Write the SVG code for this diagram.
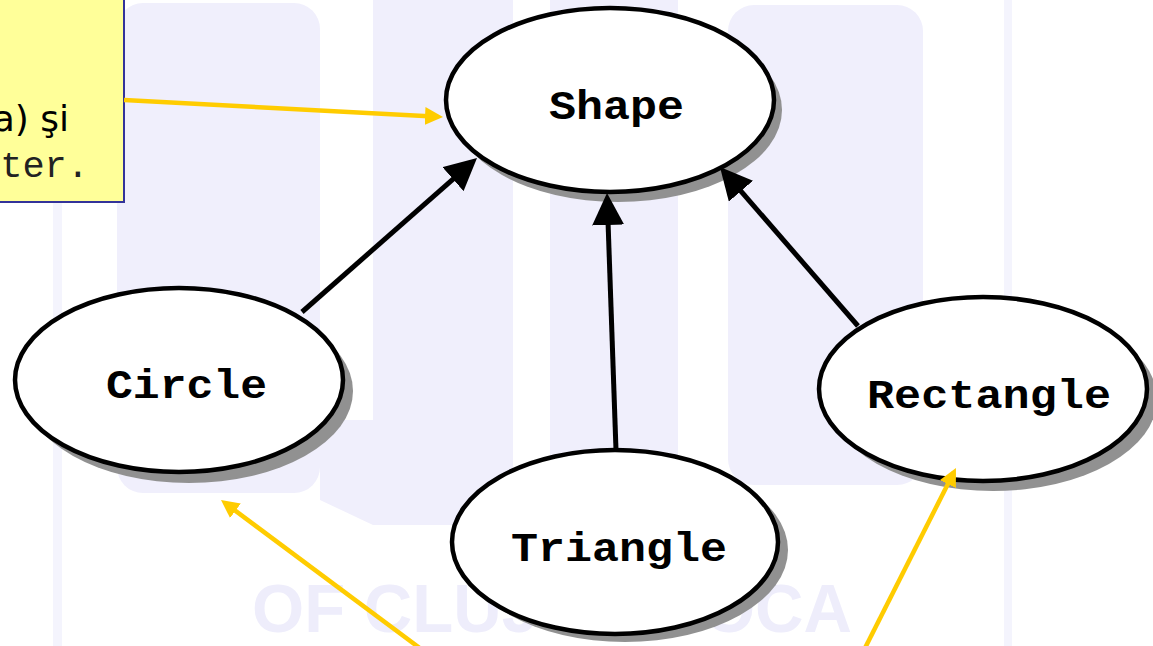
<svg xmlns="http://www.w3.org/2000/svg" width="1153" height="646" viewBox="0 0 1153 646">
  <defs>
    <style>
      .wm { fill: #f0effc; }
      .node-body { fill: #ffffff; stroke: #000000; stroke-width: 4.5; }
      .node-shadow { fill: #919191; }
      .label { font-family: "Liberation Mono", "Courier New", monospace; font-weight: bold; font-size: 40px; fill: #000000; }
      .inherit { stroke: #000000; stroke-width: 5; fill: none; marker-end: url(#head-black); }
      .pointer { stroke: #ffcc00; stroke-width: 4.5; fill: none; marker-end: url(#head-yellow); }
      .note-box { fill: #ffff99; stroke: #333399; stroke-width: 2; }
    </style>
    <marker id="head-black" markerUnits="userSpaceOnUse" viewBox="0 0 32 32" markerWidth="32" markerHeight="32" refX="24" refY="16" orient="auto">
      <path d="M0,0 L32,16 L0,32 Z" fill="#000000"/>
    </marker>
    <marker id="head-yellow" markerUnits="userSpaceOnUse" viewBox="0 0 18 18" markerWidth="18" markerHeight="18" refX="13" refY="9" orient="auto">
      <path d="M0,0 L18,9 L0,18 Z" fill="#ffcc00"/>
    </marker>
  </defs>

  <rect x="0" y="0" width="1153" height="646" fill="#ffffff"/>

  <!-- faint university logo in the background -->
  <g id="watermark">
    <rect class="wm" x="53" y="0" width="9" height="646" opacity="0.7"/>
    <rect class="wm" x="1004" y="0" width="8" height="646" opacity="0.7"/>
    <rect class="wm" x="117" y="3" width="203" height="490" rx="26"/>
    <rect class="wm" x="373" y="0" width="140" height="525"/>
    <rect class="wm" x="550" y="0" width="128" height="525"/>
    <rect class="wm" x="728" y="5" width="195" height="480" rx="26"/>
    <path class="wm" d="M320,420 L373,420 L373,525 L320,500 Z"/>
    <text x="552" y="632" text-anchor="middle" font-family="Liberation Sans, Arial, sans-serif" font-weight="bold" font-size="68" fill="#eeedfb" textLength="600" lengthAdjust="spacingAndGlyphs">OF CLUJ-NAPOCA</text>
  </g>

  <!-- explanatory note, partly outside the page -->
  <g id="note">
    <rect class="note-box" x="-10" y="-10" width="134" height="212"/>
    <text x="69" y="131" text-anchor="end" font-family="DejaVu Sans, Verdana, sans-serif" font-size="36" fill="#000000">a) şi</text>
    <text x="89" y="177" text-anchor="end" font-family="Liberation Mono, Courier New, monospace" font-size="37" fill="#222222">ter.</text>
  </g>

  <g id="node-shape">
    <ellipse class="node-shadow" cx="618" cy="110" rx="164" ry="92"/>
    <ellipse class="node-body" cx="610" cy="100" rx="164" ry="92"/>
    <text class="label" x="549" y="119" textLength="135" lengthAdjust="spacingAndGlyphs">Shape</text>
  </g>

  <g id="node-circle">
    <ellipse class="node-shadow" cx="189" cy="391" rx="164" ry="92"/>
    <ellipse class="node-body" cx="179" cy="380" rx="164" ry="92"/>
    <text class="label" x="106" y="398" textLength="161" lengthAdjust="spacingAndGlyphs">Circle</text>
  </g>

  <g id="node-rectangle">
    <ellipse class="node-shadow" cx="993" cy="399" rx="164" ry="92"/>
    <ellipse class="node-body" cx="983" cy="389" rx="164" ry="92"/>
    <text class="label" x="867" y="408" textLength="244" lengthAdjust="spacingAndGlyphs">Rectangle</text>
  </g>

  <g id="node-triangle">
    <ellipse class="node-shadow" cx="625" cy="550" rx="163" ry="92"/>
    <ellipse class="node-body" cx="615" cy="542" rx="163" ry="92"/>
    <text class="label" x="511" y="561" textLength="216" lengthAdjust="spacingAndGlyphs">Triangle</text>
  </g>

  <g id="connectors">
    <line class="inherit" x1="302" y1="312" x2="471" y2="163.3"/>
    <line class="inherit" x1="616" y1="450" x2="607.3" y2="201"/>
    <line class="inherit" x1="858" y1="326" x2="725.2" y2="173"/>
    <line class="pointer" x1="124" y1="100" x2="438" y2="116.7"/>
    <line class="pointer" x1="425" y1="652" x2="225" y2="503"/>
    <line class="pointer" x1="863" y1="652" x2="953.7" y2="472.5"/>
  </g>
</svg>
